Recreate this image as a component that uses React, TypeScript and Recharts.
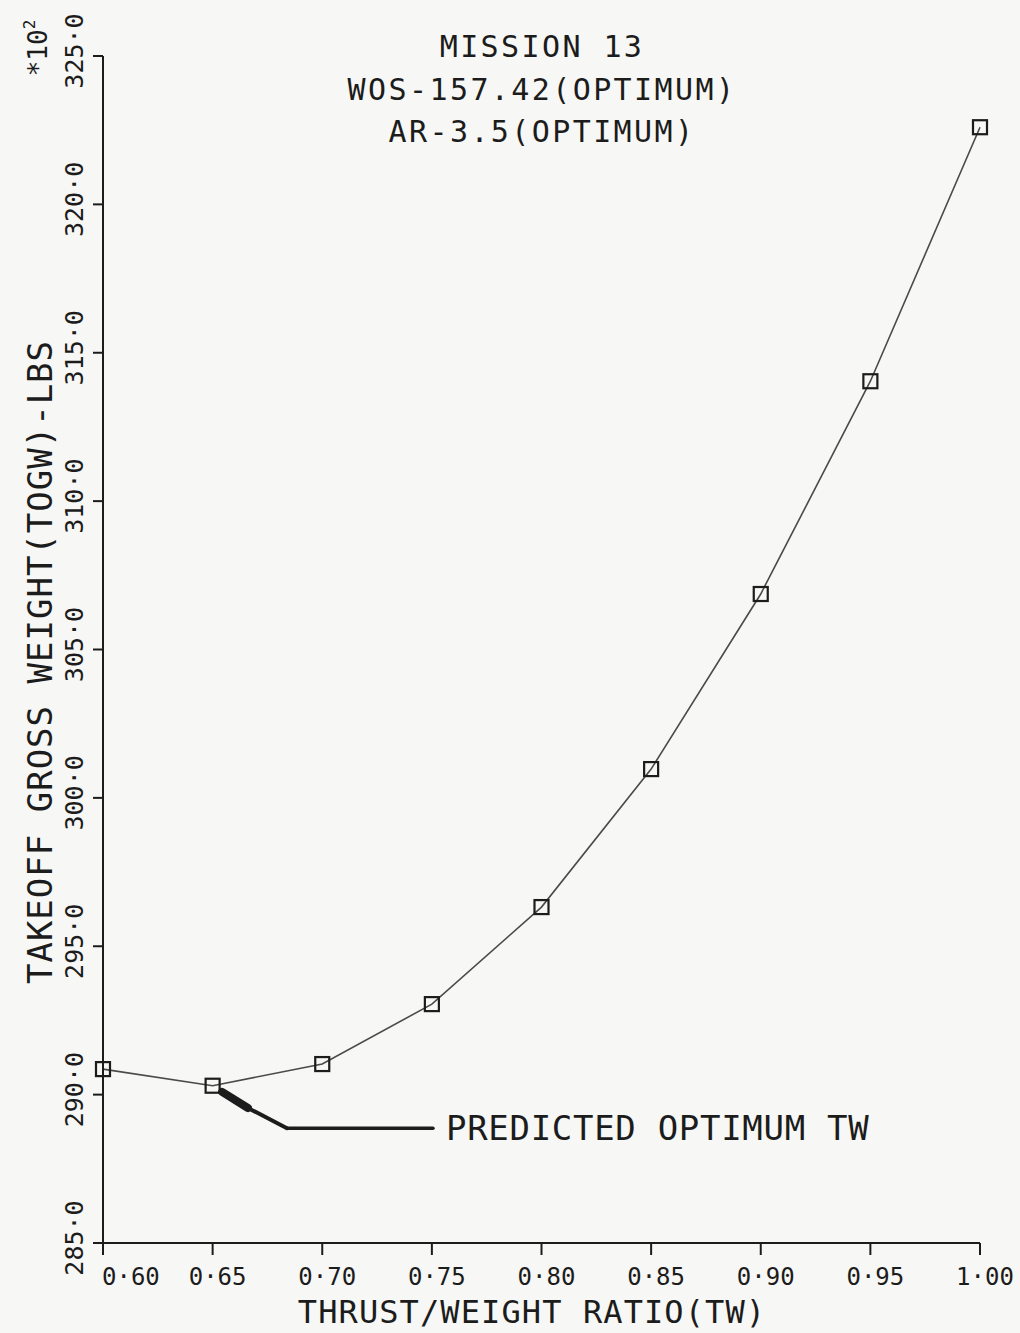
import React from "react";
import {
  ComposedChart,
  Line,
  XAxis,
  YAxis,
  ReferenceLine,
  ReferenceDot,
} from "recharts";

// ---- data ----
const thrustWeight = [0.6, 0.65, 0.7, 0.75, 0.8, 0.85, 0.9, 0.95, 1.0];
const togw = [290.86, 290.3, 291.03, 293.05, 296.32, 300.97, 306.87, 314.04, 322.6];
const xTicks = [0.6, 0.65, 0.7, 0.75, 0.8, 0.85, 0.9, 0.95, 1.0];
const yTicks = [285, 290, 295, 300, 305, 310, 315, 320, 325];
const titleLines = ["MISSION 13", "WOS-157.42(OPTIMUM)", "AR-3.5(OPTIMUM)"];
const xLabel = "THRUST/WEIGHT RATIO(TW)";
const yLabel = "TAKEOFF GROSS WEIGHT(TOGW)-LBS";
const annotationText = "PREDICTED OPTIMUM TW";
// annotation arrow path in data units (tip, end of head, bend, end)
const arrowX = [0.6543, 0.6661, 0.6839, 0.7505];
const arrowY = [290.09, 289.55, 288.87, 288.87];

const data = thrustWeight.map((x, i) => ({ x, y: togw[i] }));

const FONT = "'DejaVu Sans Mono', 'Liberation Mono', monospace";
const INK = "#1c1c1c";
const TITLE_BASELINES = [57, 100, 142];

const SquareDot = (props: any) => {
  const { cx, cy, index } = props;
  if (cx == null || cy == null) return null;
  return (
    <rect
      key={`sq-${index}`}
      x={cx - 7}
      y={cy - 7}
      width={14}
      height={14}
      fill="none"
      stroke={INK}
      strokeWidth={2.2}
    />
  );
};

const XTick = (props: any) => {
  const { x, y, payload, index } = props;
  const label = Number(payload.value).toFixed(2).replace(".", "·");
  const first = index === 0;
  return (
    <text
      x={first ? x - 1 : x + 5}
      y={y + 30}
      textAnchor={first ? "start" : "middle"}
      fontFamily={FONT}
      fontSize={24}
      fill={INK}
    >
      {label}
    </text>
  );
};

const YTick = (props: any) => {
  const { x, y, payload } = props;
  const label = Number(payload.value).toFixed(1).replace(".", "·");
  return (
    <text
      transform={`translate(${x},${y - 5}) rotate(-90)`}
      textAnchor="middle"
      fontFamily={FONT}
      fontSize={25}
      fill={INK}
    >
      {label}
    </text>
  );
};

const AnnotationLabel = (props: any) => {
  const { cx, cy } = props;
  if (cx == null) return null;
  return (
    <text
      x={cx + 13}
      y={cy + 12}
      fontFamily={FONT}
      fontSize={34}
      letterSpacing={0.7}
      fill={INK}
    >
      {annotationText}
    </text>
  );
};

export default function App() {
  return (
    <div
      style={{
        position: "absolute",
        left: 0,
        top: 0,
        width: 1020,
        height: 1333,
        background: "#f7f7f5",
      }}
    >
      <ComposedChart
        width={1020}
        height={1333}
        data={data}
        margin={{ top: 56, right: 40, left: 43, bottom: 30 }}
      >
        <XAxis
          dataKey="x"
          type="number"
          domain={[0.6, 1.0]}
          ticks={xTicks}
          height={60}
          axisLine={{ stroke: INK, strokeWidth: 2 }}
          tickLine={{ stroke: INK, strokeWidth: 2 }}
          tickSize={12}
          tickMargin={0}
          tick={<XTick />}
          interval={0}
        />
        <YAxis
          dataKey="y"
          type="number"
          domain={[285, 325]}
          ticks={yTicks}
          width={60}
          axisLine={{ stroke: INK, strokeWidth: 2 }}
          tickLine={{ stroke: INK, strokeWidth: 2 }}
          tickSize={10}
          tickMargin={10}
          tick={<YTick />}
          interval={0}
        />
        <Line
          dataKey="y"
          type="linear"
          stroke="#4a4a4a"
          strokeWidth={1.6}
          dot={<SquareDot />}
          activeDot={false}
          isAnimationActive={false}
        />
        <ReferenceLine
          segment={[
            { x: arrowX[0], y: arrowY[0] },
            { x: arrowX[1], y: arrowY[1] },
          ]}
          stroke={INK}
          strokeWidth={8}
          strokeLinecap="round"
          ifOverflow="visible"
        />
        <ReferenceLine
          segment={[
            { x: arrowX[1], y: arrowY[1] },
            { x: arrowX[2], y: arrowY[2] },
          ]}
          stroke={INK}
          strokeWidth={4}
          strokeLinecap="round"
          ifOverflow="visible"
        />
        <ReferenceLine
          segment={[
            { x: arrowX[2], y: arrowY[2] },
            { x: arrowX[3], y: arrowY[3] },
          ]}
          stroke={INK}
          strokeWidth={3.5}
          strokeLinecap="round"
          ifOverflow="visible"
        />
        <ReferenceDot
          x={arrowX[3]}
          y={arrowY[3]}
          r={0}
          ifOverflow="visible"
          shape={<AnnotationLabel />}
        />
      </ComposedChart>
      <svg
        width={1020}
        height={1333}
        style={{ position: "absolute", left: 0, top: 0, pointerEvents: "none" }}
      >
        {titleLines.map((t, i) => (
          <text
            key={t}
            x={542}
            y={TITLE_BASELINES[i]}
            textAnchor="middle"
            fontFamily={FONT}
            fontSize={30}
            letterSpacing={2.4}
            fill={INK}
          >
            {t}
          </text>
        ))}
        <text
          x={532}
          y={1323}
          textAnchor="middle"
          fontFamily={FONT}
          fontSize={32}
          letterSpacing={1.1}
          fill={INK}
        >
          {xLabel}
        </text>
        <text
          transform="translate(52,662) rotate(-90)"
          textAnchor="middle"
          fontFamily={FONT}
          fontSize={34}
          letterSpacing={1}
          fill={INK}
        >
          {yLabel}
        </text>
        <text
          transform="translate(47,48) rotate(-90)"
          textAnchor="middle"
          fontFamily={FONT}
          fontSize={26}
          fill={INK}
        >
          *10
          <tspan fontSize={16} dy={-12}>
            2
          </tspan>
        </text>
      </svg>
    </div>
  );
}
